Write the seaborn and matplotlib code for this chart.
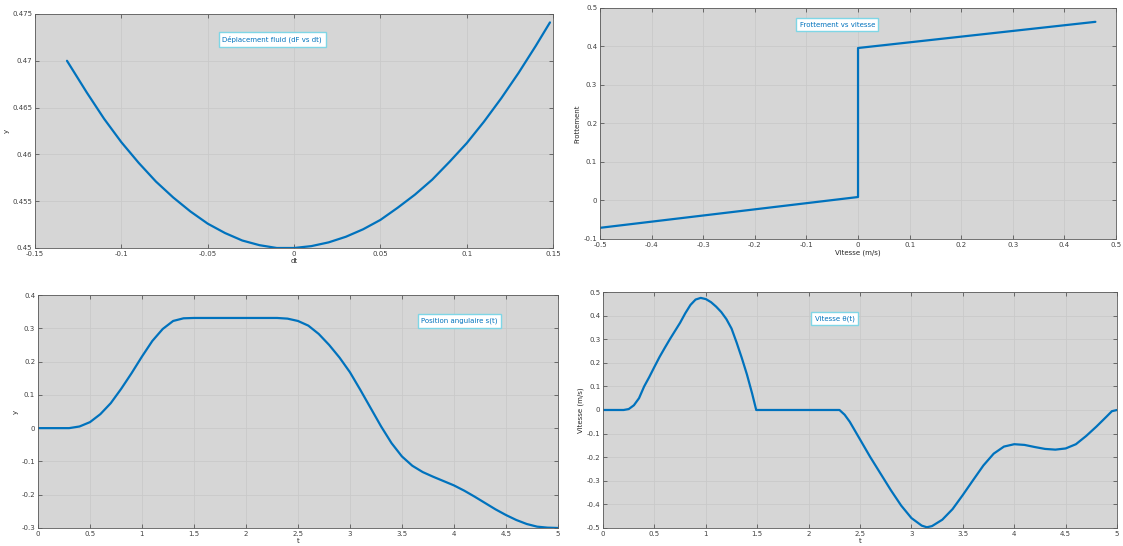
import numpy as np
import pandas as pd
import matplotlib
matplotlib.use("Agg")
import matplotlib.pyplot as plt
import matplotlib.ticker as mticker
import seaborn as sns

# --- data ---
# top left: parabola
dx = [-0.1315, -0.12, -0.11, -0.10, -0.09, -0.08, -0.07, -0.06, -0.05, -0.04, -0.03, -0.02,
      -0.01, 0.0, 0.01, 0.02, 0.03, 0.04, 0.05, 0.06, 0.07, 0.08, 0.09, 0.10, 0.11, 0.12,
      0.13, 0.14, 0.1482]
dy = [0.4700, 0.4666, 0.4638, 0.4613, 0.4591, 0.4571, 0.4554, 0.4539, 0.4526, 0.4516, 0.4508,
      0.4503, 0.4500, 0.4500, 0.4502, 0.4506, 0.4512, 0.4520, 0.4530, 0.4543, 0.4557, 0.4573,
      0.4592, 0.4612, 0.4635, 0.4660, 0.4687, 0.4716, 0.4741]

# top right: friction vs velocity
vel = [-0.5, 0.0, 0.0, 0.46]
frot = [-0.071, 0.009, 0.396, 0.464]

# bottom left: position
t1 = [0.0, 0.3, 0.4, 0.5, 0.6, 0.7, 0.8, 0.9, 1.0, 1.1, 1.2, 1.3, 1.4, 1.5, 2.3, 2.4, 2.5,
      2.6, 2.7, 2.8, 2.9, 3.0, 3.1, 3.2, 3.3, 3.4, 3.5, 3.6, 3.7, 3.8, 3.9, 4.0, 4.1, 4.2,
      4.3, 4.4, 4.5, 4.6, 4.7, 4.8, 4.9, 5.0]
pos = [0.0, 0.0, 0.005, 0.018, 0.042, 0.075, 0.118, 0.165, 0.215, 0.262, 0.298, 0.322, 0.330,
       0.331, 0.331, 0.329, 0.322, 0.308, 0.283, 0.250, 0.212, 0.168, 0.115, 0.060, 0.005,
       -0.045, -0.085, -0.113, -0.132, -0.146, -0.159, -0.172, -0.188, -0.206, -0.225, -0.244,
       -0.261, -0.276, -0.288, -0.296, -0.299, -0.300]

# bottom right: velocity
t2 = [0.0, 0.2, 0.25, 0.3, 0.35, 0.4, 0.45, 0.5, 0.55, 0.6, 0.65, 0.7, 0.75, 0.8, 0.85, 0.9,
      0.95, 1.0, 1.05, 1.1, 1.15, 1.2, 1.25, 1.3, 1.35, 1.4, 1.45, 1.49, 2.3, 2.35, 2.4, 2.5,
      2.6, 2.7, 2.8, 2.9, 3.0, 3.1, 3.15, 3.2, 3.3, 3.4, 3.5, 3.6, 3.7, 3.8, 3.9, 4.0, 4.1,
      4.2, 4.3, 4.4, 4.5, 4.6, 4.7, 4.8, 4.9, 4.95, 5.0]
vit = [0.0, 0.0, 0.004, 0.02, 0.05, 0.10, 0.14, 0.183, 0.225, 0.263, 0.30, 0.335, 0.37, 0.41,
       0.445, 0.468, 0.475, 0.47, 0.457, 0.438, 0.415, 0.385, 0.345, 0.285, 0.22, 0.15, 0.07,
       0.0, 0.0, -0.02, -0.05, -0.125, -0.20, -0.27, -0.34, -0.405, -0.458, -0.49, -0.497,
       -0.492, -0.465, -0.42, -0.36, -0.297, -0.235, -0.185, -0.155, -0.145, -0.148, -0.157,
       -0.165, -0.168, -0.163, -0.145, -0.11, -0.07, -0.027, -0.005, 0.0]

titles = ["Déplacement fluid (dF vs dt)", "Frottement vs vitesse",
          "Position angulaire s(t)", "Vitesse θ(t)"]

# tick positions
ticks_x1 = [-0.15, -0.1, -0.05, 0, 0.05, 0.1, 0.15]
ticks_y1 = [0.45, 0.455, 0.46, 0.465, 0.47, 0.475]
ticks_x2 = [-0.5, -0.4, -0.3, -0.2, -0.1, 0, 0.1, 0.2, 0.3, 0.4, 0.5]
ticks_y2 = [-0.1, 0, 0.1, 0.2, 0.3, 0.4, 0.5]
ticks_t = [0, 0.5, 1, 1.5, 2, 2.5, 3, 3.5, 4, 4.5, 5]
ticks_y3 = [-0.3, -0.2, -0.1, 0, 0.1, 0.2, 0.3, 0.4]
ticks_y4 = [-0.5, -0.4, -0.3, -0.2, -0.1, 0, 0.1, 0.2, 0.3, 0.4, 0.5]

blue = "#0072BD"
sns.set_style("whitegrid", {"axes.facecolor": "#d6d6d6", "grid.color": "#c9c9c9",
                            "axes.edgecolor": "#5a5a5a", "xtick.direction": "in",
                            "ytick.direction": "in", "xtick.top": True, "ytick.right": True,
                            "xtick.bottom": True, "ytick.left": True})
plt.rcParams["font.family"] = ["DejaVu Sans"]
plt.rcParams["xtick.major.size"] = 3
plt.rcParams["ytick.major.size"] = 3
plt.rcParams["xtick.color"] = "#404040"
plt.rcParams["ytick.color"] = "#404040"

fig = plt.figure(figsize=(11.23, 5.46), dpi=100)
ax1 = fig.add_axes([0.0312, 0.5458, 0.4613, 0.4286])
ax2 = fig.add_axes([0.5343, 0.5623, 0.4595, 0.4231])
ax3 = fig.add_axes([0.0338, 0.033, 0.463, 0.4267])
ax4 = fig.add_axes([0.537, 0.033, 0.4577, 0.4322])


def style(ax, title, xlab, ylab, loc):
    for sp in ax.spines.values():
        sp.set_linewidth(0.6)
    ax.grid(True, linewidth=0.6)
    ax.tick_params(labelsize=5, width=0.5, pad=2)
    ax.xaxis.set_major_formatter(mticker.FormatStrFormatter("%g"))
    ax.yaxis.set_major_formatter(mticker.FormatStrFormatter("%g"))
    ax.set_xlabel(xlab, fontsize=5, labelpad=1)
    ax.set_ylabel(ylab, fontsize=5, labelpad=2)
    leg = ax.legend([title], loc=loc, handlelength=0, handletextpad=0,
                    fontsize=5, frameon=True, fancybox=False, borderpad=0.5)
    leg.get_frame().set_edgecolor("#7fd6e6")
    leg.get_frame().set_facecolor("white")
    leg.get_frame().set_alpha(1)
    for txt in leg.get_texts():
        txt.set_color(blue)
    for h in leg.legend_handles:
        h.set_visible(False)


sns.lineplot(x=dx, y=dy, ax=ax1, color=blue, linewidth=1.6, estimator=None, sort=False)
ax1.set_xlim(-0.15, 0.15)
ax1.set_ylim(0.45, 0.475)
ax1.set_xticks(ticks_x1)
ax1.set_yticks(ticks_y1)
style(ax1, titles[0], "dt", "y", (0.355, 0.86))

sns.lineplot(x=vel, y=frot, ax=ax2, color=blue, linewidth=1.6, estimator=None, sort=False)
ax2.set_xlim(-0.5, 0.5)
ax2.set_ylim(-0.1, 0.5)
ax2.set_xticks(ticks_x2)
ax2.set_yticks(ticks_y2)
style(ax2, titles[1], "Vitesse (m/s)", "Frottement", (0.38, 0.9))

sns.lineplot(x=t1, y=pos, ax=ax3, color=blue, linewidth=1.6, estimator=None, sort=False)
ax3.set_xlim(0, 5)
ax3.set_ylim(-0.3, 0.4)
ax3.set_xticks(ticks_t)
ax3.set_yticks(ticks_y3)
style(ax3, titles[2], "t", "y", (0.73, 0.86))

sns.lineplot(x=t2, y=vit, ax=ax4, color=blue, linewidth=1.6, estimator=None, sort=False)
ax4.set_xlim(0, 5)
ax4.set_ylim(-0.5, 0.5)
ax4.set_xticks(ticks_t)
ax4.set_yticks(ticks_y4)
style(ax4, titles[3], "t", "Vitesse (m/s)", (0.405, 0.86))

fig.savefig("out.png", dpi=100)
